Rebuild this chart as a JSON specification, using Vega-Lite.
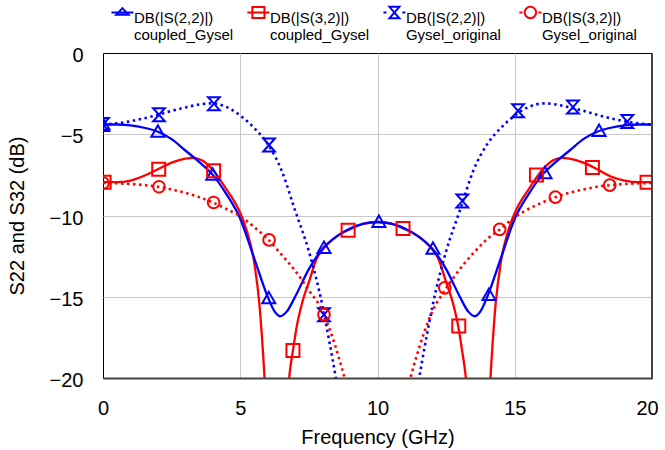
{
  "$schema": "https://vega.github.io/schema/vega-lite/v6.json",
  "width": 549,
  "height": 325,
  "autosize": {"type": "none"},
  "padding": {"left": 103, "top": 53, "right": 13, "bottom": 72},
  "background": "white",
  "config": {
    "font": "Liberation Sans",
    "view": {"stroke": "#000000", "strokeWidth": 1},
    "axis": {
      "labelFont": "Liberation Sans",
      "labelFontSize": 20,
      "labelColor": "#000000",
      "titleFont": "Liberation Sans",
      "titleFontSize": 20,
      "titleFontWeight": "normal",
      "titleColor": "#000000",
      "gridColor": "#c8c8c8",
      "gridWidth": 1,
      "ticks": false,
      "tickSize": 0
    }
  },
  "datasets": {
    "lines": [
      {"s": "S32 coupled_Gysel", "f": 0, "v": -7.95},
      {"s": "S32 coupled_Gysel", "f": 0.5, "v": -7.95},
      {"s": "S32 coupled_Gysel", "f": 1, "v": -7.85},
      {"s": "S32 coupled_Gysel", "f": 1.5, "v": -7.55},
      {"s": "S32 coupled_Gysel", "f": 2, "v": -7.15},
      {"s": "S32 coupled_Gysel", "f": 2.5, "v": -6.75},
      {"s": "S32 coupled_Gysel", "f": 3, "v": -6.5},
      {"s": "S32 coupled_Gysel", "f": 3.3, "v": -6.45},
      {"s": "S32 coupled_Gysel", "f": 3.6, "v": -6.6},
      {"s": "S32 coupled_Gysel", "f": 4, "v": -7.2},
      {"s": "S32 coupled_Gysel", "f": 4.5, "v": -8.4},
      {"s": "S32 coupled_Gysel", "f": 5, "v": -9.85},
      {"s": "S32 coupled_Gysel", "f": 5.25, "v": -11.0},
      {"s": "S32 coupled_Gysel", "f": 5.5, "v": -12.8},
      {"s": "S32 coupled_Gysel", "f": 5.7, "v": -15.5},
      {"s": "S32 coupled_Gysel", "f": 5.85, "v": -19.0},
      {"s": "S32 coupled_Gysel", "f": 6.0, "v": -23.5},
      {"s": "S32 coupled_Gysel", "f": 6.15, "v": -29},
      {"s": "S32 coupled_Gysel", "f": 6.32, "v": -40},
      {"s": "S32 coupled_Gysel", "f": 6.5, "v": -29},
      {"s": "S32 coupled_Gysel", "f": 6.65, "v": -23},
      {"s": "S32 coupled_Gysel", "f": 6.8, "v": -19.7},
      {"s": "S32 coupled_Gysel", "f": 6.92, "v": -18.3},
      {"s": "S32 coupled_Gysel", "f": 7.05, "v": -16.9},
      {"s": "S32 coupled_Gysel", "f": 7.25, "v": -15.4},
      {"s": "S32 coupled_Gysel", "f": 7.5, "v": -14.1},
      {"s": "S32 coupled_Gysel", "f": 7.8, "v": -12.6},
      {"s": "S32 coupled_Gysel", "f": 8, "v": -12.1},
      {"s": "S32 coupled_Gysel", "f": 8.5, "v": -11.3},
      {"s": "S32 coupled_Gysel", "f": 9, "v": -10.85},
      {"s": "S32 coupled_Gysel", "f": 9.5, "v": -10.5},
      {"s": "S32 coupled_Gysel", "f": 10, "v": -10.4},
      {"s": "S32 coupled_Gysel", "f": 10.5, "v": -10.5},
      {"s": "S32 coupled_Gysel", "f": 11, "v": -10.85},
      {"s": "S32 coupled_Gysel", "f": 11.5, "v": -11.3},
      {"s": "S32 coupled_Gysel", "f": 12, "v": -12.1},
      {"s": "S32 coupled_Gysel", "f": 12.2, "v": -12.6},
      {"s": "S32 coupled_Gysel", "f": 12.5, "v": -14.1},
      {"s": "S32 coupled_Gysel", "f": 12.75, "v": -15.4},
      {"s": "S32 coupled_Gysel", "f": 12.95, "v": -16.9},
      {"s": "S32 coupled_Gysel", "f": 13.08, "v": -18.3},
      {"s": "S32 coupled_Gysel", "f": 13.2, "v": -19.7},
      {"s": "S32 coupled_Gysel", "f": 13.35, "v": -23},
      {"s": "S32 coupled_Gysel", "f": 13.5, "v": -29},
      {"s": "S32 coupled_Gysel", "f": 13.68, "v": -40},
      {"s": "S32 coupled_Gysel", "f": 13.85, "v": -29},
      {"s": "S32 coupled_Gysel", "f": 14.0, "v": -23.5},
      {"s": "S32 coupled_Gysel", "f": 14.15, "v": -19.0},
      {"s": "S32 coupled_Gysel", "f": 14.3, "v": -15.5},
      {"s": "S32 coupled_Gysel", "f": 14.5, "v": -12.8},
      {"s": "S32 coupled_Gysel", "f": 14.75, "v": -11.0},
      {"s": "S32 coupled_Gysel", "f": 15, "v": -9.85},
      {"s": "S32 coupled_Gysel", "f": 15.5, "v": -8.4},
      {"s": "S32 coupled_Gysel", "f": 16, "v": -7.2},
      {"s": "S32 coupled_Gysel", "f": 16.4, "v": -6.6},
      {"s": "S32 coupled_Gysel", "f": 16.7, "v": -6.45},
      {"s": "S32 coupled_Gysel", "f": 17, "v": -6.5},
      {"s": "S32 coupled_Gysel", "f": 17.5, "v": -6.75},
      {"s": "S32 coupled_Gysel", "f": 18, "v": -7.15},
      {"s": "S32 coupled_Gysel", "f": 18.5, "v": -7.6},
      {"s": "S32 coupled_Gysel", "f": 19, "v": -7.85},
      {"s": "S32 coupled_Gysel", "f": 19.5, "v": -7.95},
      {"s": "S32 coupled_Gysel", "f": 20, "v": -7.95},

      {"s": "S22 coupled_Gysel", "f": 0, "v": -4.4},
      {"s": "S22 coupled_Gysel", "f": 0.5, "v": -4.4},
      {"s": "S22 coupled_Gysel", "f": 1, "v": -4.45},
      {"s": "S22 coupled_Gysel", "f": 1.5, "v": -4.6},
      {"s": "S22 coupled_Gysel", "f": 2, "v": -4.85},
      {"s": "S22 coupled_Gysel", "f": 2.5, "v": -5.3},
      {"s": "S22 coupled_Gysel", "f": 3, "v": -6.0},
      {"s": "S22 coupled_Gysel", "f": 3.5, "v": -6.7},
      {"s": "S22 coupled_Gysel", "f": 4, "v": -7.5},
      {"s": "S22 coupled_Gysel", "f": 4.5, "v": -8.7},
      {"s": "S22 coupled_Gysel", "f": 5, "v": -10.2},
      {"s": "S22 coupled_Gysel", "f": 5.5, "v": -12.6},
      {"s": "S22 coupled_Gysel", "f": 6, "v": -15.0},
      {"s": "S22 coupled_Gysel", "f": 6.25, "v": -15.9},
      {"s": "S22 coupled_Gysel", "f": 6.45, "v": -16.2},
      {"s": "S22 coupled_Gysel", "f": 6.7, "v": -15.9},
      {"s": "S22 coupled_Gysel", "f": 7, "v": -15.0},
      {"s": "S22 coupled_Gysel", "f": 7.5, "v": -13.3},
      {"s": "S22 coupled_Gysel", "f": 8, "v": -12.05},
      {"s": "S22 coupled_Gysel", "f": 8.5, "v": -11.3},
      {"s": "S22 coupled_Gysel", "f": 9, "v": -10.8},
      {"s": "S22 coupled_Gysel", "f": 9.5, "v": -10.5},
      {"s": "S22 coupled_Gysel", "f": 10, "v": -10.4},
      {"s": "S22 coupled_Gysel", "f": 10.5, "v": -10.5},
      {"s": "S22 coupled_Gysel", "f": 11, "v": -10.8},
      {"s": "S22 coupled_Gysel", "f": 11.5, "v": -11.3},
      {"s": "S22 coupled_Gysel", "f": 12, "v": -12.05},
      {"s": "S22 coupled_Gysel", "f": 12.5, "v": -13.3},
      {"s": "S22 coupled_Gysel", "f": 13, "v": -15.0},
      {"s": "S22 coupled_Gysel", "f": 13.3, "v": -15.9},
      {"s": "S22 coupled_Gysel", "f": 13.55, "v": -16.2},
      {"s": "S22 coupled_Gysel", "f": 13.75, "v": -15.9},
      {"s": "S22 coupled_Gysel", "f": 14, "v": -15.0},
      {"s": "S22 coupled_Gysel", "f": 14.5, "v": -12.6},
      {"s": "S22 coupled_Gysel", "f": 15, "v": -10.2},
      {"s": "S22 coupled_Gysel", "f": 15.5, "v": -8.7},
      {"s": "S22 coupled_Gysel", "f": 16, "v": -7.5},
      {"s": "S22 coupled_Gysel", "f": 16.5, "v": -6.7},
      {"s": "S22 coupled_Gysel", "f": 17, "v": -6.0},
      {"s": "S22 coupled_Gysel", "f": 17.5, "v": -5.3},
      {"s": "S22 coupled_Gysel", "f": 18, "v": -4.85},
      {"s": "S22 coupled_Gysel", "f": 18.5, "v": -4.6},
      {"s": "S22 coupled_Gysel", "f": 19, "v": -4.45},
      {"s": "S22 coupled_Gysel", "f": 19.5, "v": -4.4},
      {"s": "S22 coupled_Gysel", "f": 20, "v": -4.4},

      {"s": "S22 Gysel_original", "f": 0, "v": -4.4},
      {"s": "S22 Gysel_original", "f": 0.5, "v": -4.33},
      {"s": "S22 Gysel_original", "f": 1, "v": -4.2},
      {"s": "S22 Gysel_original", "f": 1.5, "v": -4.02},
      {"s": "S22 Gysel_original", "f": 2, "v": -3.8},
      {"s": "S22 Gysel_original", "f": 2.5, "v": -3.56},
      {"s": "S22 Gysel_original", "f": 3, "v": -3.35},
      {"s": "S22 Gysel_original", "f": 3.5, "v": -3.17},
      {"s": "S22 Gysel_original", "f": 3.9, "v": -3.1},
      {"s": "S22 Gysel_original", "f": 4.3, "v": -3.2},
      {"s": "S22 Gysel_original", "f": 4.7, "v": -3.5},
      {"s": "S22 Gysel_original", "f": 5, "v": -3.85},
      {"s": "S22 Gysel_original", "f": 5.5, "v": -4.6},
      {"s": "S22 Gysel_original", "f": 6, "v": -5.6},
      {"s": "S22 Gysel_original", "f": 6.5, "v": -7.2},
      {"s": "S22 Gysel_original", "f": 7, "v": -9.7},
      {"s": "S22 Gysel_original", "f": 7.5, "v": -12.2},
      {"s": "S22 Gysel_original", "f": 8, "v": -15.6},
      {"s": "S22 Gysel_original", "f": 8.25, "v": -17.8},
      {"s": "S22 Gysel_original", "f": 8.5, "v": -20.2},
      {"s": "S22 Gysel_original", "f": 8.75, "v": -23},
      {"s": "S22 Gysel_original", "f": 9.2, "v": -30},
      {"s": "S22 Gysel_original", "f": 10, "v": -45},
      {"s": "S22 Gysel_original", "f": 10.8, "v": -30},
      {"s": "S22 Gysel_original", "f": 11.25, "v": -23},
      {"s": "S22 Gysel_original", "f": 11.5, "v": -20.2},
      {"s": "S22 Gysel_original", "f": 11.75, "v": -17.8},
      {"s": "S22 Gysel_original", "f": 12, "v": -15.6},
      {"s": "S22 Gysel_original", "f": 12.5, "v": -12.2},
      {"s": "S22 Gysel_original", "f": 13, "v": -9.7},
      {"s": "S22 Gysel_original", "f": 13.5, "v": -7.2},
      {"s": "S22 Gysel_original", "f": 14, "v": -5.6},
      {"s": "S22 Gysel_original", "f": 14.5, "v": -4.6},
      {"s": "S22 Gysel_original", "f": 15, "v": -3.85},
      {"s": "S22 Gysel_original", "f": 15.3, "v": -3.5},
      {"s": "S22 Gysel_original", "f": 15.7, "v": -3.2},
      {"s": "S22 Gysel_original", "f": 16.1, "v": -3.1},
      {"s": "S22 Gysel_original", "f": 16.5, "v": -3.17},
      {"s": "S22 Gysel_original", "f": 17, "v": -3.35},
      {"s": "S22 Gysel_original", "f": 17.5, "v": -3.56},
      {"s": "S22 Gysel_original", "f": 18, "v": -3.8},
      {"s": "S22 Gysel_original", "f": 18.5, "v": -4.02},
      {"s": "S22 Gysel_original", "f": 19, "v": -4.2},
      {"s": "S22 Gysel_original", "f": 19.5, "v": -4.33},
      {"s": "S22 Gysel_original", "f": 20, "v": -4.4},

      {"s": "S32 Gysel_original", "f": 0, "v": -8.0},
      {"s": "S32 Gysel_original", "f": 0.5, "v": -8.02},
      {"s": "S32 Gysel_original", "f": 1, "v": -8.06},
      {"s": "S32 Gysel_original", "f": 1.5, "v": -8.13},
      {"s": "S32 Gysel_original", "f": 2, "v": -8.23},
      {"s": "S32 Gysel_original", "f": 2.5, "v": -8.4},
      {"s": "S32 Gysel_original", "f": 3, "v": -8.6},
      {"s": "S32 Gysel_original", "f": 3.5, "v": -8.87},
      {"s": "S32 Gysel_original", "f": 4, "v": -9.2},
      {"s": "S32 Gysel_original", "f": 4.5, "v": -9.6},
      {"s": "S32 Gysel_original", "f": 5, "v": -10.05},
      {"s": "S32 Gysel_original", "f": 5.5, "v": -10.7},
      {"s": "S32 Gysel_original", "f": 6, "v": -11.45},
      {"s": "S32 Gysel_original", "f": 6.5, "v": -12.4},
      {"s": "S32 Gysel_original", "f": 7, "v": -13.4},
      {"s": "S32 Gysel_original", "f": 7.5, "v": -14.6},
      {"s": "S32 Gysel_original", "f": 8, "v": -15.9},
      {"s": "S32 Gysel_original", "f": 8.3, "v": -17.2},
      {"s": "S32 Gysel_original", "f": 8.6, "v": -18.8},
      {"s": "S32 Gysel_original", "f": 8.8, "v": -20.0},
      {"s": "S32 Gysel_original", "f": 9.2, "v": -23},
      {"s": "S32 Gysel_original", "f": 10, "v": -32},
      {"s": "S32 Gysel_original", "f": 10.8, "v": -23},
      {"s": "S32 Gysel_original", "f": 11.2, "v": -20.0},
      {"s": "S32 Gysel_original", "f": 11.4, "v": -18.8},
      {"s": "S32 Gysel_original", "f": 11.7, "v": -17.2},
      {"s": "S32 Gysel_original", "f": 12, "v": -15.9},
      {"s": "S32 Gysel_original", "f": 12.5, "v": -14.5},
      {"s": "S32 Gysel_original", "f": 13, "v": -13.3},
      {"s": "S32 Gysel_original", "f": 13.5, "v": -12.3},
      {"s": "S32 Gysel_original", "f": 14, "v": -11.45},
      {"s": "S32 Gysel_original", "f": 14.5, "v": -10.8},
      {"s": "S32 Gysel_original", "f": 15, "v": -10.1},
      {"s": "S32 Gysel_original", "f": 15.5, "v": -9.6},
      {"s": "S32 Gysel_original", "f": 16, "v": -9.2},
      {"s": "S32 Gysel_original", "f": 16.5, "v": -8.87},
      {"s": "S32 Gysel_original", "f": 17, "v": -8.6},
      {"s": "S32 Gysel_original", "f": 17.5, "v": -8.4},
      {"s": "S32 Gysel_original", "f": 18, "v": -8.23},
      {"s": "S32 Gysel_original", "f": 18.5, "v": -8.13},
      {"s": "S32 Gysel_original", "f": 19, "v": -8.06},
      {"s": "S32 Gysel_original", "f": 19.5, "v": -8.02},
      {"s": "S32 Gysel_original", "f": 20, "v": -8.0}
    ],
    "markers": [
      {"s": "S22 coupled_Gysel", "f": 0, "v": -4.4},
      {"s": "S22 coupled_Gysel", "f": 2, "v": -4.85},
      {"s": "S22 coupled_Gysel", "f": 4, "v": -7.5},
      {"s": "S22 coupled_Gysel", "f": 6.04, "v": -15.1},
      {"s": "S22 coupled_Gysel", "f": 8.05, "v": -12.0},
      {"s": "S22 coupled_Gysel", "f": 10.05, "v": -10.4},
      {"s": "S22 coupled_Gysel", "f": 12.02, "v": -12.05},
      {"s": "S22 coupled_Gysel", "f": 14.06, "v": -14.9},
      {"s": "S22 coupled_Gysel", "f": 16.1, "v": -7.4},
      {"s": "S22 coupled_Gysel", "f": 18.07, "v": -4.8},
      {"s": "S32 coupled_Gysel", "f": 0.04, "v": -7.95},
      {"s": "S32 coupled_Gysel", "f": 2.03, "v": -7.15},
      {"s": "S32 coupled_Gysel", "f": 4.03, "v": -7.25},
      {"s": "S32 coupled_Gysel", "f": 6.92, "v": -18.3},
      {"s": "S32 coupled_Gysel", "f": 8.93, "v": -10.9},
      {"s": "S32 coupled_Gysel", "f": 10.93, "v": -10.8},
      {"s": "S32 coupled_Gysel", "f": 12.96, "v": -16.8},
      {"s": "S32 coupled_Gysel", "f": 15.79, "v": -7.5},
      {"s": "S32 coupled_Gysel", "f": 17.83, "v": -7.05},
      {"s": "S32 coupled_Gysel", "f": 19.82, "v": -7.95},
      {"s": "S22 Gysel_original", "f": 0, "v": -4.4},
      {"s": "S22 Gysel_original", "f": 2.04, "v": -3.8},
      {"s": "S22 Gysel_original", "f": 4.04, "v": -3.12},
      {"s": "S22 Gysel_original", "f": 6.05, "v": -5.66},
      {"s": "S22 Gysel_original", "f": 8.05, "v": -16.1},
      {"s": "S22 Gysel_original", "f": 13.09, "v": -9.1},
      {"s": "S22 Gysel_original", "f": 15.12, "v": -3.56},
      {"s": "S22 Gysel_original", "f": 17.12, "v": -3.33},
      {"s": "S22 Gysel_original", "f": 19.1, "v": -4.22},
      {"s": "S32 Gysel_original", "f": 0, "v": -8.0},
      {"s": "S32 Gysel_original", "f": 2.04, "v": -8.23},
      {"s": "S32 Gysel_original", "f": 4.03, "v": -9.2},
      {"s": "S32 Gysel_original", "f": 6.05, "v": -11.5},
      {"s": "S32 Gysel_original", "f": 8.05, "v": -16.1},
      {"s": "S32 Gysel_original", "f": 12.45, "v": -14.45},
      {"s": "S32 Gysel_original", "f": 14.45, "v": -10.85},
      {"s": "S32 Gysel_original", "f": 16.48, "v": -8.87},
      {"s": "S32 Gysel_original", "f": 18.46, "v": -8.13}
    ]
  },
  "layer": [
    {
      "data": {"name": "lines"},
      "transform": [{"filter": "datum.s == 'S32 coupled_Gysel'"}],
      "mark": {"type": "line", "interpolate": "monotone", "clip": true, "strokeWidth": 2.3, "color": "#ff0000"},
      "encoding": {
        "x": {
          "field": "f", "type": "quantitative",
          "scale": {"domain": [0, 20], "nice": false, "zero": false},
          "axis": {
            "values": [0, 5, 10, 15, 20],
            "title": "Frequency (GHz)",
            "grid": true,
            "gridOpacity": {"condition": {"test": "datum.value == 0 || datum.value == 20", "value": 0}, "value": 1},
            "domain": true, "domainColor": "#444444", "domainWidth": 2,
            "labelPadding": 20, "titlePadding": 9, "labelFlush": false,
            "labelOffset": {"condition": {"test": "datum.value == 20", "value": -5}, "value": 0}
          }
        },
        "y": {
          "field": "v", "type": "quantitative",
          "scale": {"domain": [-20, 0], "nice": false, "zero": false},
          "axis": {
            "values": [-20, -15, -10, -5, 0],
            "title": "S22 and S32 (dB)",
            "grid": true,
            "gridOpacity": {"condition": {"test": "datum.value == 0 || datum.value == -20", "value": 0}, "value": 1},
            "domain": false,
            "labelPadding": 20, "titlePadding": 22, "labelOffset": 2.5, "labelFlush": false
          }
        }
      }
    },
    {
      "data": {"name": "lines"},
      "transform": [{"filter": "datum.s == 'S22 coupled_Gysel'"}],
      "mark": {"type": "line", "interpolate": "monotone", "clip": true, "strokeWidth": 2.3, "color": "#0000ff"},
      "encoding": {"x": {"field": "f", "type": "quantitative"}, "y": {"field": "v", "type": "quantitative"}}
    },
    {
      "data": {"name": "lines"},
      "transform": [{"filter": "datum.s == 'S22 Gysel_original'"}],
      "mark": {"type": "line", "interpolate": "monotone", "clip": true, "strokeWidth": 2.6, "strokeDash": [2.5, 3.5], "color": "#0000ff"},
      "encoding": {"x": {"field": "f", "type": "quantitative"}, "y": {"field": "v", "type": "quantitative"}}
    },
    {
      "data": {"name": "lines"},
      "transform": [{"filter": "datum.s == 'S32 Gysel_original'"}],
      "mark": {"type": "line", "interpolate": "monotone", "clip": true, "strokeWidth": 2.6, "strokeDash": [2.5, 3.5], "color": "#ff0000"},
      "encoding": {"x": {"field": "f", "type": "quantitative"}, "y": {"field": "v", "type": "quantitative"}}
    },
    {
      "data": {"name": "markers"},
      "transform": [{"filter": "datum.s == 'S22 coupled_Gysel'"}],
      "mark": {"type": "point", "shape": "M0,-1L1,0.75L-1,0.75Z", "size": 169, "filled": false, "strokeWidth": 2, "color": "#0000ff", "opacity": 1, "clip": true},
      "encoding": {"x": {"field": "f", "type": "quantitative"}, "y": {"field": "v", "type": "quantitative"}}
    },
    {
      "data": {"name": "markers"},
      "transform": [{"filter": "datum.s == 'S32 coupled_Gysel'"}],
      "mark": {"type": "point", "shape": "M-1,-1H1V1H-1Z", "size": 169, "filled": false, "strokeWidth": 2, "color": "#ff0000", "opacity": 1, "clip": true},
      "encoding": {"x": {"field": "f", "type": "quantitative"}, "y": {"field": "v", "type": "quantitative"}}
    },
    {
      "data": {"name": "markers"},
      "transform": [{"filter": "datum.s == 'S22 Gysel_original'"}],
      "mark": {"type": "point", "shape": "M-0.9,-1H0.9L-0.9,1H0.9Z", "size": 169, "filled": false, "strokeWidth": 2, "color": "#0000ff", "opacity": 1, "clip": true},
      "encoding": {"x": {"field": "f", "type": "quantitative"}, "y": {"field": "v", "type": "quantitative"}}
    },
    {
      "data": {"name": "markers"},
      "transform": [{"filter": "datum.s == 'S32 Gysel_original'"}],
      "mark": {"type": "point", "shape": "M0.9,0A0.9,0.9,0,1,1,-0.9,0A0.9,0.9,0,1,1,0.9,0Z", "size": 169, "filled": false, "strokeWidth": 2, "color": "#ff0000", "opacity": 1, "clip": true},
      "encoding": {"x": {"field": "f", "type": "quantitative"}, "y": {"field": "v", "type": "quantitative"}}
    },
    {
      "data": {"name": "markers"},
      "mark": {"type": "point", "filled": false, "opacity": 0, "clip": true},
      "encoding": {
        "x": {"field": "f", "type": "quantitative"},
        "y": {"field": "v", "type": "quantitative"},
        "color": {
          "field": "s", "type": "nominal",
          "scale": {"domain": ["S22 coupled_Gysel", "S32 coupled_Gysel", "S22 Gysel_original", "S32 Gysel_original"], "range": ["#0000ff", "#ff0000", "#0000ff", "#ff0000"]},
          "legend": {
            "title": null, "orient": "none", "legendX": 7.4, "legendY": -47.2, "direction": "horizontal",
            "columns": 4, "gridAlign": "all", "columnPadding": 10, "padding": 0, "rowPadding": 0,
            "symbolSize": 484, "symbolStrokeWidth": 2, "symbolOpacity": 1,
            "labelFont": "Liberation Sans", "labelFontSize": 15, "labelColor": "#000000", "labelOffset": -0.5, "labelLimit": 300,
            "labelExpr": "['DB(|S(' + (substring(datum.value, 0, 3) == 'S22' ? '2,2' : '3,2') + ')|)', substring(datum.value, 4)]"
          }
        },
        "shape": {
          "field": "s", "type": "nominal",
          "scale": {"domain": ["S22 coupled_Gysel", "S32 coupled_Gysel", "S22 Gysel_original", "S32 Gysel_original"],
                    "range": [
                      "M-1,-0.48H1M0,-0.88L0.56,-0.28H-0.56Z",
                      "M-1,-0.48H1M-0.55,-0.98H0.55V0.02H-0.55Z",
                      "M-1,-0.48H-0.72M0.72,-0.48H1M-0.45,-1H0.45L-0.45,0.04H0.45Z",
                      "M-1,-0.48H-0.72M0.72,-0.48H1M0.52,-0.48A0.52,0.52,0,1,1,-0.52,-0.48A0.52,0.52,0,1,1,0.52,-0.48Z"
                    ]},
          "legend": {
            "title": null, "orient": "none", "legendX": 7.4, "legendY": -47.2, "direction": "horizontal",
            "columns": 4, "gridAlign": "all", "columnPadding": 10, "padding": 0, "rowPadding": 0,
            "symbolSize": 484, "symbolStrokeWidth": 2, "symbolOpacity": 1,
            "labelFont": "Liberation Sans", "labelFontSize": 15, "labelColor": "#000000", "labelOffset": -0.5, "labelLimit": 300,
            "labelExpr": "['DB(|S(' + (substring(datum.value, 0, 3) == 'S22' ? '2,2' : '3,2') + ')|)', substring(datum.value, 4)]"
          }
        }
      }
    },
    {
      "data": {"values": [{}]},
      "mark": {"type": "rule", "color": "#444444", "strokeWidth": 2},
      "encoding": {"x": {"datum": 20}}
    }
  ]
}
